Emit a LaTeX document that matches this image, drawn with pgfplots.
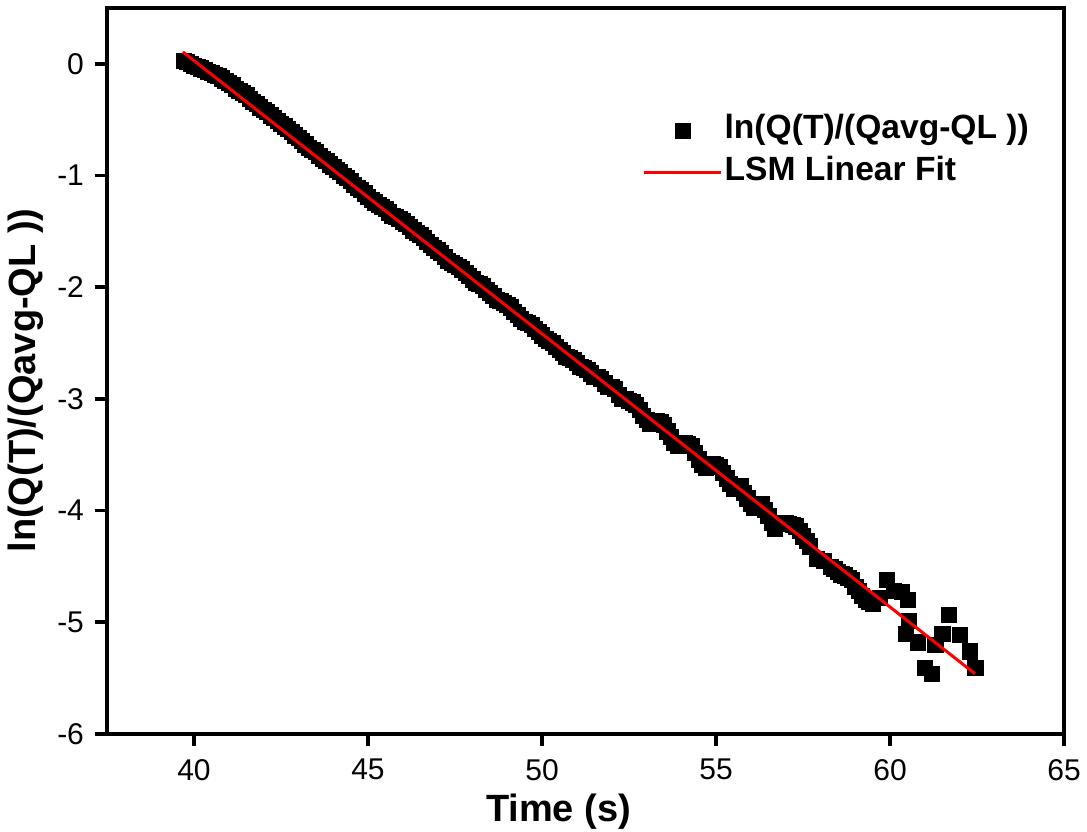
\documentclass[border=0pt]{standalone}
\usepackage{pgfplots}
\pgfplotsset{compat=1.18}
\usepackage{fontspec}
\setmainfont{Liberation Sans}
\begin{document}
\begin{tikzpicture}
\begin{axis}[
  set layers,
  scale only axis,
  width=478.5pt, height=363pt,
  xmin=37.5, xmax=65, ymin=-6, ymax=0.5,
  xtick={40,45,50,55,60,65},
  xticklabels={40,45,50,55,60,65},
  ytick={-6,-5,-4,-3,-2,-1,0},
  yticklabels={-6,-5,-4,-3,-2,-1,0},
  xtick pos=bottom, ytick pos=left,
  tick align=outside,
  major tick length=6pt,
  axis line style={line width=1.8pt},
  every tick/.style={black, line width=1.8pt},
  tick label style={font=\fontsize{15}{17}\selectfont},
  xticklabel style={yshift=-3pt},
  yticklabel style={xshift=-2pt},
  xlabel={Time (s)},
  ylabel={ln(Q(T)/(Qavg-QL ))},
  label style={font=\bfseries\fontsize{19}{22}\selectfont},
  xlabel style={xshift=-13.5pt},
  every axis y label/.append style={at={(ticklabel cs:0.48)}, xshift=2.5pt},
  legend image code/.code={\draw[mark repeat=2,mark phase=2,#1] plot coordinates {(0pt,0pt) (19.25pt,0pt) (38.5pt,0pt)};},
  legend style={draw=none, fill=none, at={(rel axis cs:0.553,0.862)}, anchor=north west,
    font=\bfseries\fontsize{16.8}{20}\selectfont,
    nodes={inner sep=1pt, text height=12pt, text depth=4pt},
    row sep=3pt},
  legend cell align=left,
]
\addplot[only marks, mark=square*, mark size=3.8pt, mark options={fill=black, draw=black, line width=0.3pt}] coordinates {
(39.7,0.03) (39.8,0.02) (39.9,0.00) (40.0,-0.02) (40.1,-0.03) (40.2,-0.04) (40.3,-0.05) (40.4,-0.07)
(40.5,-0.08) (40.6,-0.10) (40.7,-0.11) (40.8,-0.13) (40.9,-0.15) (41.0,-0.17) (41.1,-0.19) (41.2,-0.22)
(41.3,-0.24) (41.4,-0.26) (41.5,-0.28) (41.6,-0.31) (41.7,-0.34) (41.8,-0.36) (41.9,-0.39) (42.0,-0.41)
(42.1,-0.43) (42.2,-0.46) (42.3,-0.48) (42.4,-0.51) (42.5,-0.54) (42.6,-0.56) (42.7,-0.58) (42.8,-0.61)
(42.9,-0.64) (43.0,-0.66) (43.1,-0.69) (43.2,-0.72) (43.3,-0.75) (43.4,-0.77) (43.5,-0.79) (43.6,-0.82)
(43.7,-0.85) (43.8,-0.87) (43.9,-0.90) (44.0,-0.92) (44.1,-0.95) (44.2,-0.97) (44.3,-1.00) (44.4,-1.02)
(44.5,-1.05) (44.6,-1.08) (44.7,-1.11) (44.8,-1.13) (44.9,-1.16) (45.0,-1.19) (45.1,-1.22) (45.2,-1.24)
(45.3,-1.26) (45.4,-1.28) (45.5,-1.30) (45.6,-1.33) (45.7,-1.36) (45.8,-1.37) (45.9,-1.39) (46.0,-1.41)
(46.1,-1.43) (46.2,-1.46) (46.3,-1.49) (46.4,-1.51) (46.5,-1.53) (46.6,-1.56) (46.7,-1.59) (46.8,-1.62)
(46.9,-1.65) (47.0,-1.67) (47.1,-1.69) (47.2,-1.73) (47.3,-1.76) (47.4,-1.78) (47.5,-1.80) (47.6,-1.82)
(47.7,-1.84) (47.8,-1.87) (47.9,-1.90) (48.0,-1.93) (48.1,-1.96) (48.2,-1.97) (48.3,-1.99) (48.4,-2.02)
(48.5,-2.05) (48.6,-2.08) (48.7,-2.11) (48.8,-2.12) (48.9,-2.14) (49.0,-2.16) (49.1,-2.18) (49.2,-2.22)
(49.3,-2.25) (49.4,-2.28) (49.5,-2.31) (49.6,-2.32) (49.7,-2.34) (49.8,-2.37) (49.9,-2.40) (50.0,-2.43)
(50.1,-2.46) (50.2,-2.48) (50.3,-2.50) (50.4,-2.53) (50.5,-2.56) (50.6,-2.59) (50.7,-2.62) (50.8,-2.63)
(50.9,-2.65) (51.0,-2.68) (51.1,-2.71) (51.2,-2.72) (51.3,-2.74) (51.4,-2.77) (51.5,-2.80) (51.6,-2.80)
(51.7,-2.82) (51.8,-2.86) (51.9,-2.89) (52.0,-2.89) (52.1,-2.91) (52.2,-2.96) (52.3,-3.00) (52.4,-3.00)
(52.5,-3.02) (52.6,-3.03) (52.7,-3.05) (52.8,-3.10) (52.9,-3.15) (53.0,-3.19) (53.1,-3.22) (53.2,-3.20)
(53.3,-3.20) (53.4,-3.21) (53.5,-3.23) (53.6,-3.29) (53.7,-3.34) (53.8,-3.39) (53.9,-3.42) (54.0,-3.40)
(54.1,-3.39) (54.2,-3.40) (54.3,-3.42) (54.4,-3.48) (54.5,-3.54) (54.6,-3.59) (54.7,-3.62) (54.8,-3.59)
(54.9,-3.58) (55.0,-3.59) (55.1,-3.61) (55.2,-3.66) (55.3,-3.71) (55.4,-3.76) (55.5,-3.80) (55.6,-3.78)
(55.7,-3.78) (55.8,-3.84) (55.9,-3.89) (56.0,-3.94) (56.1,-3.97) (56.2,-3.95) (56.3,-3.94) (56.4,-3.99)
(56.5,-4.05) (56.6,-4.11) (56.7,-4.16) (56.8,-4.12) (56.9,-4.11) (57.0,-4.11) (57.1,-4.12) (57.2,-4.13)
(57.3,-4.14) (57.4,-4.18) (57.5,-4.23) (57.6,-4.27) (57.7,-4.32) (57.9,-4.43) (58.1,-4.45) (58.3,-4.50)
(58.4,-4.52) (58.5,-4.55) (58.6,-4.57) (58.7,-4.58) (58.8,-4.60) (58.9,-4.62) (59.0,-4.68) (59.1,-4.72)
(59.2,-4.76) (59.3,-4.80) (59.4,-4.82) (59.5,-4.83) (59.7,-4.78) (59.9,-4.62) (60.1,-4.72) (60.35,-4.73)
(60.5,-4.80) (60.55,-4.99) (60.45,-5.10) (60.8,-5.18) (61.0,-5.41) (61.2,-5.46) (61.3,-5.20) (61.5,-5.10)
(61.7,-4.93) (62.0,-5.11) (62.3,-5.26) (62.45,-5.41)
};
\addlegendentry{ln(Q(T)/(Qavg-QL ))}
\addplot[red, line width=1.5pt, on layer=axis foreground] coordinates {(39.68,0.107) (62.44,-5.46)};
\addlegendentry{LSM Linear Fit}
\coordinate (sw) at (rel axis cs:0,0);
\coordinate (ne) at (rel axis cs:1,1);
\end{axis}
\pgfresetboundingbox
\path ([shift={(-53.5pt,-49pt)}]sw) rectangle ([shift={(11.5pt,4pt)}]ne);
\end{tikzpicture}
\end{document}
